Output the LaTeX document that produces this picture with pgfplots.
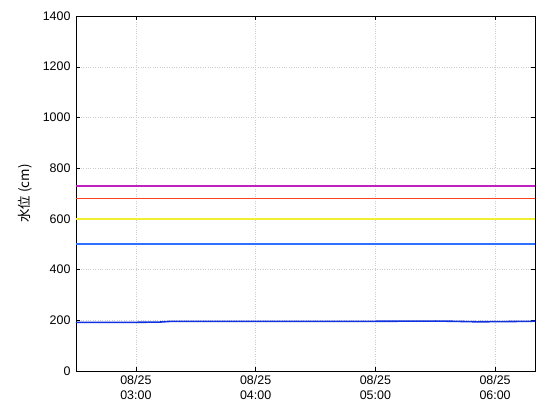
\documentclass[border=0pt]{standalone}
\usepackage{pgfplots}
\pgfplotsset{compat=1.18}
\usepackage{fontspec}
\setmainfont{Liberation Sans}
\newfontfamily\cjk{Noto Sans CJK JP}
\definecolor{cpurple}{HTML}{C020C0}
\definecolor{cred}{HTML}{FF4020}
\definecolor{cyellow}{HTML}{F0F030}
\definecolor{cblue}{HTML}{3070FF}
\definecolor{cmain}{HTML}{1030E0}
\begin{document}
\begin{tikzpicture}
\path[use as bounding box] (-76bp,-49bp) rectangle (484bp,371bp);
\begin{axis}[
  at={(0,0)}, anchor=south west,
  scale only axis, width=459bp, height=355bp,
  xmin=2.5, xmax=6.3333, ymin=0, ymax=1400,
  xtick={3,4,5,6},
  xticklabels={08/25\\03:00,08/25\\04:00,08/25\\05:00,08/25\\06:00},
  xticklabel style={align=center, font=\fontsize{12.5}{15}\selectfont, yshift=-1bp},
  ytick={0,200,...,1400},
  yticklabel style={font=\fontsize{12.5}{14}\selectfont, xshift=-2bp},
  /pgf/number format/assume math mode=true,
  /pgf/number format/1000 sep={},
  tick align=inside, tick style={black, thin}, major tick length=4bp,
  grid=major, grid style={gray!40, dotted},
  axis line style={black, line width=0.9pt},
  ylabel={\cjk 水位 (cm)},
  every axis y label/.style={at={(ticklabel cs:0.5)}, rotate=90, anchor=south, yshift=4bp, font=\fontsize{13.5}{15}\selectfont},
]
\addplot[cpurple, line width=1.6pt] coordinates {(2.5,730) (6.3333,730)};
\addplot[cred, line width=1.6pt] coordinates {(2.5,680) (6.3333,680)};
\addplot[cyellow, line width=1.6pt] coordinates {(2.5,600) (6.3333,600)};
\addplot[cblue, line width=1.6pt] coordinates {(2.5,500) (6.3333,500)};
\addplot[cmain, line width=1.6pt] coordinates {(2.5,192) (3.0,192) (3.2,193) (3.3,196) (4.0,196) (5.0,196) (5.5,197) (5.65,196) (5.85,194) (6.1,195) (6.3,196) (6.3333,197)};
\end{axis}
\end{tikzpicture}
\end{document}
